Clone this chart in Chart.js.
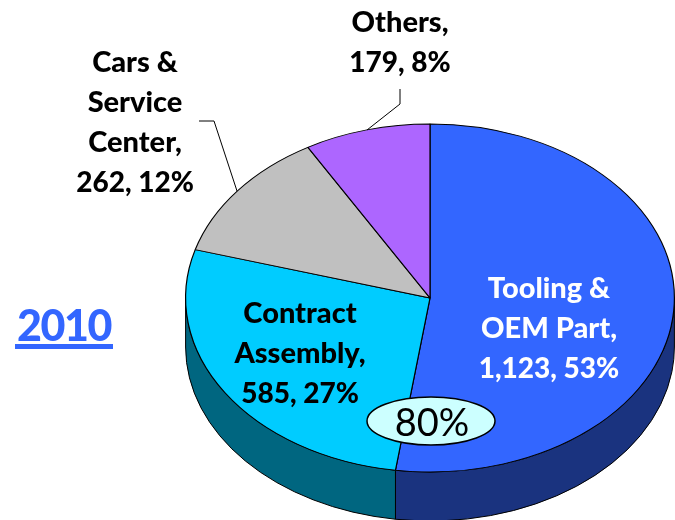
<!DOCTYPE html>
<html>
<head>
<meta charset="utf-8">
<style>html,body{margin:0;padding:0;background:#fff}canvas{display:block}</style>
<script src="https://cdn.jsdelivr.net/npm/chart.js@4"></script>
</head>
<body>
<canvas id="c" width="675" height="520"></canvas>
<script>
const categories = ['Tooling & OEM Part', 'Contract Assembly', 'Cars & Service Center', 'Others'];
const values = [1123, 585, 262, 179];
const percents = [53, 27, 12, 8];
const nameLines = [['Tooling &', 'OEM Part,'], ['Contract', 'Assembly,'], ['Cars &', 'Service', 'Center,'], ['Others,']];
const yearLabel = '2010';
const badgeLabel = '80%';

const topColors = ['#3366ff', '#00ccff', '#c0c0c0', '#ad66ff'];
const sideColors = ['#1a337f', '#006680', '#606060', '#563380'];
const textColors = ['#ffffff', '#000000', '#000000', '#000000'];
const labelAnchors = [{x: 549, y: 298}, {x: 300, y: 323}, {x: 135, y: 72}, {x: 400, y: 32}];
const lineStep = 40;
const leaders = [null, null, [[199, 121], [214, 121], [237, 191]], [[400, 89], [400, 104], [367, 130]]];
const view = {cy: 298, ry: 174, depth: 49};
const fontFamily = 'Lato, Carlito, sans-serif';

const pie3d = {
  id: 'pie3d',
  beforeDatasetDraw(chart) {
    const ctx = chart.ctx, arcs = chart.getDatasetMeta(0).data, a0 = arcs[0];
    const rx = a0.outerRadius, ry = view.ry, cx = a0.x, cy = view.cy, d = view.depth;
    arcs.forEach((arc, i) => {
      const s = Math.max(arc.startAngle, 0), e = Math.min(arc.endAngle, Math.PI);
      if (e <= s) return;
      ctx.save();
      ctx.beginPath();
      ctx.ellipse(cx, cy, rx, ry, 0, s, e);
      ctx.ellipse(cx, cy + d, rx, ry, 0, e, s, true);
      ctx.closePath();
      ctx.fillStyle = sideColors[i];
      ctx.fill();
      ctx.strokeStyle = '#000';
      ctx.lineWidth = 1;
      ctx.stroke();
      ctx.restore();
    });
    ctx.save();
    const k = ry / rx;
    ctx.translate(0, cy);
    ctx.scale(1, k);
    ctx.translate(0, -a0.y);
  },
  afterDatasetDraw(chart) {
    chart.ctx.restore();
  },
  afterDraw(chart) {
    const ctx = chart.ctx;
    ctx.save();
    ctx.strokeStyle = '#000';
    ctx.lineWidth = 1;
    leaders.forEach(pts => {
      if (!pts) return;
      ctx.beginPath();
      pts.forEach((p, j) => j ? ctx.lineTo(p[0], p[1]) : ctx.moveTo(p[0], p[1]));
      ctx.stroke();
    });
    ctx.textAlign = 'center';
    ctx.textBaseline = 'alphabetic';
    categories.forEach((name, i) => {
      const lines = nameLines[i].concat(values[i].toLocaleString('en-US') + ', ' + percents[i] + '%');
      ctx.fillStyle = textColors[i];
      lines.forEach((t, j) => {
        const isValueLine = j === lines.length - 1;
        ctx.font = '900 ' + (isValueLine ? 28 : 29) + 'px ' + fontFamily;
        ctx.fillText(t, labelAnchors[i].x, labelAnchors[i].y + j * lineStep);
      });
    });
    ctx.beginPath();
    ctx.ellipse(431, 421, 64, 24, 0, 0, Math.PI * 2);
    ctx.fillStyle = '#ccffff';
    ctx.fill();
    ctx.lineWidth = 1.5;
    ctx.stroke();
    ctx.fillStyle = '#000';
    ctx.font = '400 38px ' + fontFamily;
    ctx.fillText(badgeLabel, 432, 436);
    ctx.fillStyle = '#3366ff';
    ctx.font = '900 43px ' + fontFamily;
    ctx.letterSpacing = '-1.5px';
    ctx.fillText(yearLabel, 64, 341);
    ctx.letterSpacing = '0px';
    ctx.fillRect(15, 344, 98, 5);
    ctx.restore();
  }
};

new Chart(document.getElementById('c'), {
  type: 'pie',
  data: {
    labels: categories,
    datasets: [{
      data: values,
      backgroundColor: topColors,
      borderColor: '#000',
      borderWidth: 1.2,
      clip: false
    }]
  },
  options: {
    responsive: false,
    animation: false,
    layout: {padding: {left: 185, right: -2, top: 0, bottom: 0}},
    plugins: {legend: {display: false}, tooltip: {enabled: false}}
  },
  plugins: [pie3d]
});
</script>
</body>
</html>
